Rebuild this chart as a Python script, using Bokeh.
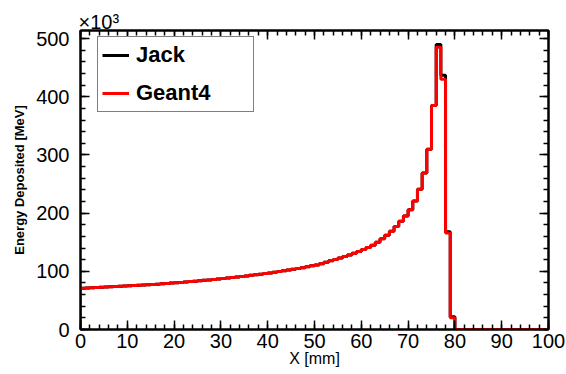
from bokeh.plotting import figure
from bokeh.models import Range1d, LinearAxis, Legend, LegendItem, SingleIntervalTicker, Title
from bokeh.embed import file_html
from bokeh.resources import INLINE

# ---- data (energy deposited per 1 mm bin, in units of 10^3 MeV) ----
bin_edges = list(range(0, 101))

geant4 = [
    71.0, 71.4, 71.8, 72.2, 72.6, 73.0, 73.4, 73.8, 74.2, 74.6,
    75.0, 75.5, 76.0, 76.5, 77.0, 77.5, 78.0, 78.6, 79.2, 79.8,
    80.4, 81.0, 81.7, 82.4, 83.1, 83.8, 84.5, 85.3, 86.1, 86.9,
    87.7, 88.5, 89.4, 90.3, 91.2, 92.1, 93.1, 94.1, 95.1, 96.2,
    97.3, 98.4, 99.6, 100.8, 102.1, 103.4, 104.8, 106.3, 107.8, 109.4,
    111.0, 113.0, 115.5, 118.0, 120.5, 123.0, 125.5, 128.0, 131.0, 134.0,
    137.5, 141.0, 145.0, 150.0, 156.0, 162.0, 169.0, 177.0, 186.0, 195.0,
    206.0, 221.0, 241.0, 269.0, 310.0, 385.0, 485.0, 430.0, 166.0, 20.0,
    0, 0, 0, 0, 0, 0, 0, 0, 0, 0,
    0, 0, 0, 0, 0, 0, 0, 0, 0, 0,
]

jack = [
    71.0, 71.4, 71.8, 72.2, 72.6, 73.0, 73.4, 73.8, 74.2, 74.6,
    75.0, 75.5, 76.0, 76.5, 77.0, 77.5, 78.0, 78.6, 79.2, 79.8,
    80.4, 81.0, 81.7, 82.4, 83.1, 83.8, 84.5, 85.3, 86.1, 86.9,
    87.7, 88.5, 89.4, 90.3, 91.2, 92.1, 93.1, 94.1, 95.1, 96.2,
    97.3, 98.4, 99.6, 100.8, 102.1, 103.4, 104.8, 106.3, 107.8, 109.4,
    111.0, 113.0, 115.5, 118.0, 120.5, 123.0, 125.5, 128.0, 131.0, 134.0,
    137.5, 141.0, 145.0, 150.0, 156.0, 162.0, 169.0, 177.0, 186.0, 195.0,
    206.0, 221.0, 241.0, 269.0, 310.0, 385.0, 490.0, 437.0, 168.0, 22.0,
    0, 0, 0, 0, 0, 0, 0, 0, 0, 0,
    0, 0, 0, 0, 0, 0, 0, 0, 0, 0,
]

x_major_step = 10
y_major_step = 100
x_range = (0, 100)
y_range = (0, 514)
exponent_text = "\u00d710\u00b3"

FONT = "Liberation Sans"

p = figure(
    width=566, height=374,
    output_backend="svg", toolbar_location=None,
    x_range=Range1d(*x_range), y_range=Range1d(*y_range),
    min_border_left=80, min_border_right=18,
    min_border_top=30, min_border_bottom=45,
    background_fill_color="white", border_fill_color="white",
)
p.xgrid.visible = False
p.ygrid.visible = False
p.outline_line_color = "black"
p.outline_line_width = 2


def step_xy(edges, vals):
    xs = [edges[0]] + edges[:-1] + [edges[-1]]
    ys = [0] + vals + [vals[-1]]
    return xs, ys


jx, jy = step_xy(bin_edges, jack)
gx, gy = step_xy(bin_edges, geant4)
r_jack = p.step(jx, jy, mode="after", line_color="black", line_width=3)
r_g4 = p.step(gx, gy, mode="after", line_color="#ff0000", line_width=3)


def style_axis(ax, ticker, labels=True):
    ax.ticker = ticker
    ax.axis_line_color = "black"
    ax.axis_line_width = 2
    ax.major_tick_in = 9
    ax.major_tick_out = 0
    ax.minor_tick_in = 5
    ax.minor_tick_out = 0
    ax.major_tick_line_width = 1.5
    ax.minor_tick_line_width = 1.5
    ax.major_tick_line_color = "black"
    ax.minor_tick_line_color = "black"
    ax.major_label_text_font = FONT
    if labels:
        ax.major_label_text_color = "black"
        ax.major_label_text_font_size = "20px"
    else:
        ax.major_label_text_color = None
        ax.major_label_text_font_size = "1px"
        ax.major_label_standoff = 0


xa = p.xaxis[0]
ya = p.yaxis[0]
style_axis(xa, SingleIntervalTicker(interval=x_major_step, num_minor_ticks=5))
style_axis(ya, SingleIntervalTicker(interval=y_major_step, num_minor_ticks=5))
xa.major_label_standoff = 4
ya.major_label_standoff = 11
xa.axis_label = "X [mm]"
xa.axis_label_text_font = FONT
xa.axis_label_text_font_style = "normal"
xa.axis_label_text_font_size = "16px"
xa.axis_label_text_color = "black"
xa.axis_label_standoff = -1
ya.axis_label = "Energy Deposited [MeV]"
ya.axis_label_text_font = FONT
ya.axis_label_text_font_style = "bold"
ya.axis_label_text_font_size = "13px"
ya.axis_label_text_color = "black"
ya.axis_label_standoff = 6

top = LinearAxis()
style_axis(top, SingleIntervalTicker(interval=x_major_step, num_minor_ticks=5), labels=False)
p.add_layout(top, "above")
right = LinearAxis()
style_axis(right, SingleIntervalTicker(interval=y_major_step, num_minor_ticks=5), labels=False)
p.add_layout(right, "right")

# exponent shown above the y axis
p.add_layout(Title(text=exponent_text, align="left", offset=-2, standoff=-4,
                   vertical_align="bottom",
                   text_font=FONT, text_font_size="20px", text_font_style="normal",
                   text_color="black"), "above")

legend = Legend(
    items=[LegendItem(label="Jack", renderers=[r_jack]),
           LegendItem(label="Geant4", renderers=[r_g4])],
    location=(17, 217),
)
legend.label_text_font = FONT
legend.label_text_font_style = "bold"
legend.label_text_font_size = "22px"
legend.label_text_color = "black"
legend.border_line_color = "black"
legend.border_line_width = 1.5
legend.background_fill_color = "white"
legend.background_fill_alpha = 1
legend.padding = 4
legend.spacing = 10
legend.margin = 0
legend.glyph_width = 27
legend.glyph_height = 28
legend.label_height = 28
legend.label_width = 113
legend.label_standoff = 7
p.add_layout(legend)

open("out.html", "w").write(file_html(p, INLINE))
